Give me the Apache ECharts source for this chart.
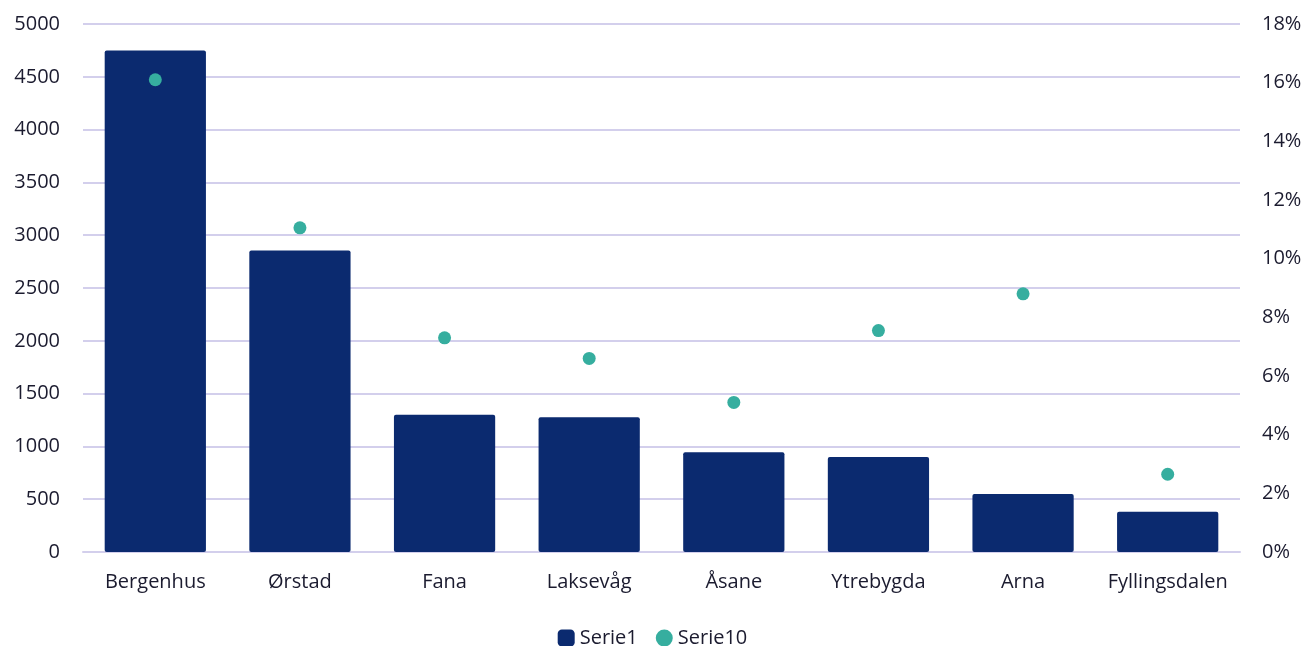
<!DOCTYPE html>
<html>
<head>
<meta charset="utf-8">
<script src="https://cdn.jsdelivr.net/npm/echarts@6/dist/echarts.min.js"></script>
<style>
html, body { margin: 0; padding: 0; background: #fff; }
#main { width: 1305px; height: 646px; }
</style>
</head>
<body>
<div id="main"></div>
<script>
var categories = ['Bergenhus', 'Ørstad', 'Fana', 'Laksevåg', 'Åsane', 'Ytrebygda', 'Arna', 'Fyllingsdalen'];
var serie1 = [4750, 2855, 1300, 1275, 945, 900, 550, 380];
var serie10 = [16.1, 11.05, 7.3, 6.6, 5.1, 7.55, 8.8, 2.65];

var textColor = '#1b1b2f';
var gridColor = '#d3cfec';
var font = 'Open Sans';

var myChart = echarts.init(document.getElementById('main'));
var option = {
    animation: false,
    textStyle: { fontFamily: font },
    grid: { left: 83, right: 65, top: 24, bottom: 94 },
    legend: {
        top: 623,
        left: 'center',
        itemGap: 18,
        itemWidth: 17,
        itemHeight: 17,
        textStyle: { fontSize: 20, color: textColor, fontFamily: font },
        data: [
            { name: 'Serie1', icon: 'roundRect' },
            { name: 'Serie10', icon: 'circle' }
        ]
    },
    xAxis: [
        {
            type: 'category',
            data: categories,
            axisLine: { lineStyle: { color: gridColor, width: 2 } },
            axisTick: { show: false },
            axisLabel: { interval: 0, fontSize: 20, color: textColor, margin: 20 }
        }
    ],
    yAxis: [
        {
            type: 'value',
            min: 0,
            max: 5000,
            interval: 500,
            axisLine: { show: false },
            axisTick: { show: false },
            splitLine: { lineStyle: { color: gridColor, width: 2 } },
            axisLabel: {
                fontSize: 20, color: textColor, margin: 23,
                formatter: function (v) { return String(v); }
            }
        },
        {
            type: 'value',
            min: 0,
            max: 18,
            interval: 2,
            axisLine: { show: false },
            axisTick: { show: false },
            splitLine: { show: false },
            axisLabel: { fontSize: 20, color: textColor, margin: 22, formatter: '{value}%' }
        }
    ],
    series: [
        {
            name: 'Serie1',
            type: 'bar',
            barWidth: '70%',
            itemStyle: { color: '#0b2a6f', borderRadius: 2 },
            data: serie1
        },
        {
            name: 'Serie10',
            type: 'scatter',
            yAxisIndex: 1,
            symbol: 'circle',
            symbolSize: 13,
            itemStyle: { color: '#36ae9f', opacity: 1 },
            data: serie10
        }
    ]
};
myChart.setOption(option);
</script>
</body>
</html>
